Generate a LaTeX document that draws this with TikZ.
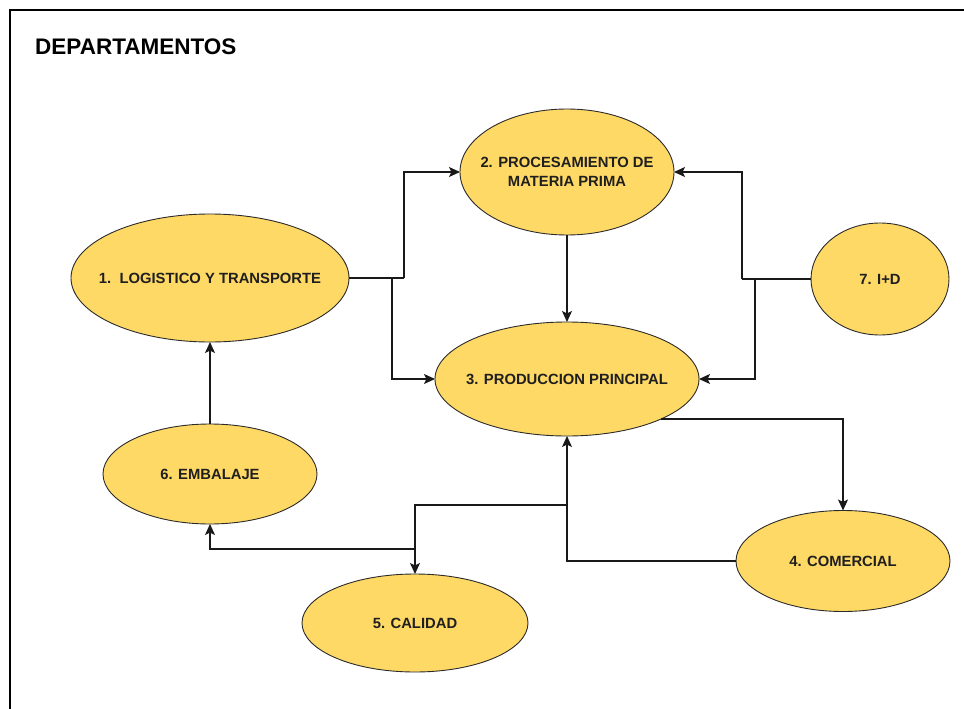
\documentclass[tikz,border=0pt]{standalone}
\usepackage{fontspec}
\setmainfont{Liberation Sans}
\usetikzlibrary{shapes.geometric,arrows.meta}
\definecolor{deptfill}{HTML}{FFD966}
\definecolor{deptline}{HTML}{2B2B2B}
\definecolor{labeltext}{HTML}{1F1F1F}
\begin{document}
\begin{tikzpicture}[x=1pt,y=-1pt,
  dept/.style={ellipse, draw=deptline, fill=deptfill, line width=0.9pt,
    inner sep=0pt, outer sep=0pt},
  deptlabel/.style={align=center, text=labeltext, inner sep=0pt,
    font=\fontsize{14.8}{19.5}\selectfont\bfseries},
  link/.style={draw=black!90, line width=1.1pt,
    -{Stealth[length=11pt,width=10pt,inset=2.5pt]}},
  plain/.style={draw=black!90, line width=1.1pt}]
  \useasboundingbox (0,0) rectangle (964,709);
  \fill[white] (0,0) rectangle (964,709);
  % page frame
  \draw[line width=1.4pt] (10,709) -- (10,10) -- (964,10);
  \node[anchor=west, inner sep=0pt, font=\fontsize{22.5}{25}\selectfont\bfseries] (title) at (35,47) {DEPARTAMENTOS};

  % departments (label text kept inside a fixed-size ellipse)
  \node[dept, minimum width=278pt, minimum height=128pt,
    label={[deptlabel]center:1.\ \ LOGISTICO Y TRANSPORTE}] (n1) at (210,278) {};
  \node[dept, minimum width=214pt, minimum height=126pt,
    label={[deptlabel]center:2. PROCESAMIENTO DE\\MATERIA PRIMA}] (n2) at (567,172) {};
  \node[dept, minimum width=264pt, minimum height=114pt,
    label={[deptlabel]center:3. PRODUCCION PRINCIPAL}] (n3) at (567,379) {};
  \node[dept, minimum width=214pt, minimum height=101pt,
    label={[deptlabel]center:4. COMERCIAL}] (n4) at (843,561) {};
  \node[dept, minimum width=226pt, minimum height=98pt,
    label={[deptlabel]center:5. CALIDAD}] (n5) at (415,623) {};
  \node[dept, minimum width=214pt, minimum height=100pt,
    label={[deptlabel]center:6. EMBALAJE}] (n6) at (210,474) {};
  \node[dept, minimum width=138pt, minimum height=112pt,
    label={[deptlabel]center:7. I+D}] (n7) at (880,279) {};

  % junction points of the elbow connectors
  \coordinate (j1) at (404,278);
  \coordinate (j1b) at (392,278);
  \coordinate (j7) at (742,279);
  \coordinate (j7b) at (755,279);
  \coordinate (k1) at (567,505);
  \coordinate (k2) at (415,549);

  % connectors
  \draw[plain] (n1.east) -- (j1);
  \draw[link] (j1) |- (n2.west);
  \draw[link] (j1b) |- (n3.west);
  \draw[plain] (n7.west) -- (j7);
  \draw[link] (j7) |- (n2.east);
  \draw[link] (j7b) |- (n3.east);
  \draw[link] (n2.south) -- (n3.north);
  \draw[link] (n3.-23) -| (n4.north);
  \draw[link] (n4.west) -| (n3.south);
  \draw[link] (k1) -| (n5.north);
  \draw[link] (k2) -| (n6.south);
  \draw[link] (n6.north) -- (n1.south);
\end{tikzpicture}
\end{document}
